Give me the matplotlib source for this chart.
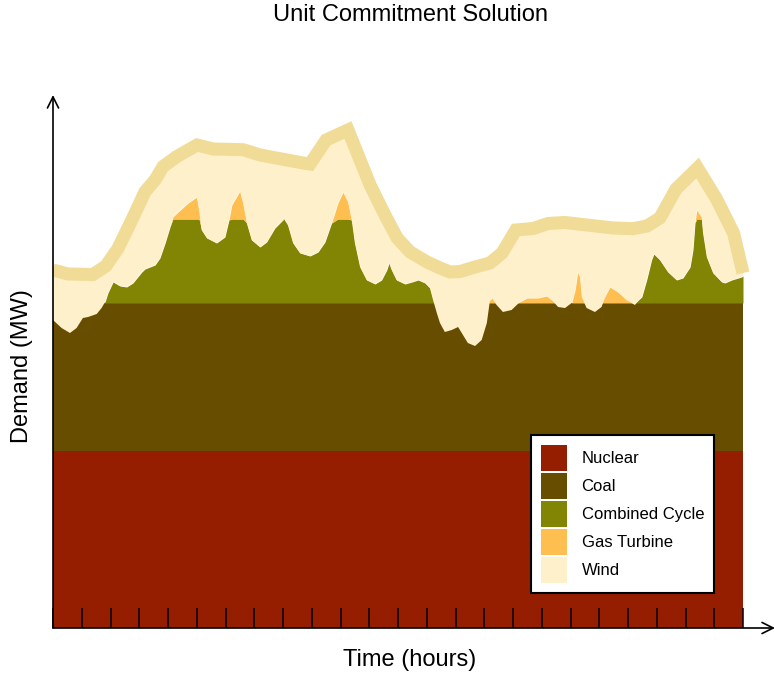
import numpy as np
import matplotlib
matplotlib.use("Agg")
import matplotlib.pyplot as plt
from matplotlib.patches import Patch

plt.rcParams['font.family'] = ['Liberation Sans', 'DejaVu Sans']

# ---------------- data ----------------
# total demand (MW), read at break points of the demand curve
demand_hours = [0.00, 0.52, 1.39, 1.84, 2.26, 2.78, 3.20, 3.55, 3.83, 4.31,
                5.01, 5.57, 6.61, 7.20, 8.70, 8.94, 9.50, 10.26, 11.03, 11.51,
                11.97, 12.42, 13.01, 13.46, 13.81, 14.16, 14.68, 15.20, 15.62, 16.10,
                16.70, 17.22, 17.81, 18.57, 19.48, 20.17, 20.66, 21.11, 21.67, 22.42,
                23.08, 23.67, 24.00]
demand_mw = [3580, 3540, 3535, 3620, 3795, 4103, 4363, 4480, 4615, 4715,
             4830, 4790, 4783, 4730, 4650, 4640, 4880, 4980, 4430, 4150,
             3900, 3760, 3660, 3600, 3560, 3565, 3610, 3650, 3750, 3980,
             3995, 4045, 4055, 4030, 4000, 3993, 4020, 4100, 4390, 4600,
             4290, 3950, 3550]

# thermal output (demand minus wind), MW
thermal_hours = [0.00, 0.30, 0.59, 0.82, 1.04, 1.22, 1.52, 1.69, 1.81, 1.91,
                 2.09, 2.33, 2.56, 2.78, 3.09, 3.20, 3.55, 3.72, 3.90, 4.07,
                 4.17, 4.35, 4.70, 5.00, 5.08, 5.17, 5.35, 5.69, 5.98, 6.12,
                 6.22, 6.50, 6.61, 6.74, 6.91, 7.20, 7.43, 7.72, 8.03, 8.17,
                 8.35, 8.59, 8.94, 9.22, 9.46, 9.69, 9.91, 10.09, 10.26, 10.39,
                 10.50, 10.68, 10.91, 11.20, 11.43, 11.61, 11.69, 11.78, 11.95, 12.24,
                 12.49, 12.70, 12.94, 13.11, 13.22, 13.35, 13.46, 13.63, 13.87, 14.09,
                 14.26, 14.43, 14.68, 14.91, 15.09, 15.20, 15.27, 15.43, 15.65, 15.95,
                 16.24, 16.48, 16.87, 17.17, 17.35, 17.57, 17.81, 18.04, 18.16, 18.25,
                 18.33, 18.39, 18.56, 18.85, 19.08, 19.26, 19.37, 19.65, 19.95, 20.24,
                 20.48, 20.65, 20.82, 20.90, 21.11, 21.39, 21.69, 21.91, 22.16, 22.26,
                 22.33, 22.39, 22.56, 22.61, 22.74, 22.96, 23.26, 23.37, 23.61, 23.95,
                 24.00]
thermal_mw = [3080, 3000, 2950, 3000, 3100, 3110, 3140, 3200, 3260, 3350,
              3460, 3420, 3410, 3450, 3560, 3590, 3630, 3700, 3850, 4010,
              4110, 4160, 4250, 4310, 4180, 3980, 3900, 3850, 3910, 4080,
              4230, 4370, 4250, 4050, 3880, 3810, 3860, 4000, 4100, 4030,
              3850, 3750, 3720, 3760, 3860, 4050, 4250, 4360, 4260, 4080,
              3850, 3610, 3480, 3440, 3480, 3580, 3650, 3580, 3480, 3440,
              3460, 3480, 3450, 3400, 3280, 3150, 3050, 2960, 2980, 3010,
              2930, 2850, 2820, 2880, 3050, 3280, 3300, 3230, 3160, 3180,
              3260, 3300, 3300, 3320, 3280, 3210, 3200, 3250, 3380, 3560,
              3510, 3310, 3200, 3160, 3210, 3350, 3410, 3360, 3280, 3230,
              3310, 3480, 3680, 3740, 3680, 3560, 3480, 3500, 3610, 3780,
              4050, 4180, 4110, 3950, 3710, 3550, 3460, 3450, 3480, 3510,
              3520]

nuclear_mw = 1770          # constant nuclear output
coal_mw = 1480             # constant coal output
cc_capacity_mw = 840       # combined cycle capacity
cc_offline = (15.0, 20.3)  # hours during which combined cycle is decommitted

labels = ["Nuclear", "Coal", "Combined Cycle", "Gas Turbine", "Wind"]
colors = ["#961E00", "#664D00", "#828503", "#FFBE50", "#FFF0CC"]
demand_color = "#F0DC96"

# ---------------- figure ----------------
fig = plt.figure(figsize=(7.75, 6.73), dpi=100)
W, H = 775, 673
ax_left, ax_right, ax_bottom, ax_top = 53, 775, 628, 95
ax = fig.add_axes([ax_left / W, (H - ax_bottom) / H,
                   (ax_right - ax_left) / W, (ax_bottom - ax_top) / H])
xmax = 24 * (ax_right - ax_left) / (743 - 53)
ymax = 5330
ax.set_xlim(0, xmax)
ax.set_ylim(0, ymax)

th = np.array(thermal_hours)
tl = np.array(thermal_mw, dtype=float)
base = nuclear_mw + coal_mw
cc_on = ~((th > cc_offline[0]) & (th < cc_offline[1]))
cc_out = np.where(cc_on, np.clip(tl - base, 0, cc_capacity_mw), 0.0)
cc_top = base + cc_out

ax.fill_between([0, 24], 0, nuclear_mw, color=colors[0], lw=0)
ax.fill_between([0, 24], nuclear_mw, base, color=colors[1], lw=0)
ax.fill_between(th, base, cc_top, color=colors[2], lw=0)
ax.fill_between(th, cc_top, np.maximum(tl, cc_top), color=colors[3], lw=0)

# wind: between thermal output and demand
wx = np.concatenate([demand_hours, th[::-1]])
wy = np.concatenate([demand_mw, tl[::-1]])
ax.fill(wx, wy, color=colors[4], lw=0)

ax.plot(demand_hours, demand_mw, color=demand_color, lw=9.4,
        solid_joinstyle='miter', solid_capstyle='butt')

for s in ax.spines.values():
    s.set_visible(False)
ax.set_yticks([])
ax.set_xticks(range(0, 25))
ax.tick_params(axis='x', direction='in', length=14.4, width=1.1,
               labelbottom=False, color='black')

arrow = dict(arrowstyle='->', lw=1.2, color='black', mutation_scale=20,
             shrinkA=0, shrinkB=0)
ax.annotate('', xy=(1.0, 0), xytext=(0, 0), xycoords='axes fraction',
            arrowprops=arrow, annotation_clip=False)
ax.annotate('', xy=(0, 1), xytext=(0, 0), xycoords='axes fraction',
            arrowprops=arrow, annotation_clip=False)

handles = [Patch(facecolor=c, edgecolor='none') for c in colors]
leg = ax.legend(handles, labels, loc='lower right',
                bbox_to_anchor=((714 - ax_left) / (ax_right - ax_left),
                                (ax_bottom - 593) / (ax_bottom - ax_top)),
                borderaxespad=0, fontsize=12, frameon=True, fancybox=False,
                handlelength=1.56, handleheight=2.023, handletextpad=0.9,
                labelspacing=0.12, borderpad=0.6, framealpha=1)
leg.get_frame().set_edgecolor('black')
leg.get_frame().set_linewidth(1.5)

fig.text(410.5 / W, 1 - 15 / H, "Unit Commitment Solution",
         ha='center', va='center', fontsize=17)
fig.text(409.5 / W, 1 - 660 / H, "Time (hours)",
         ha='center', va='center', fontsize=17)
fig.text(22 / W, 1 - 366 / H, "Demand (MW)", rotation=90,
         ha='center', va='center', fontsize=17)

fig.savefig("out.png", dpi=100)
